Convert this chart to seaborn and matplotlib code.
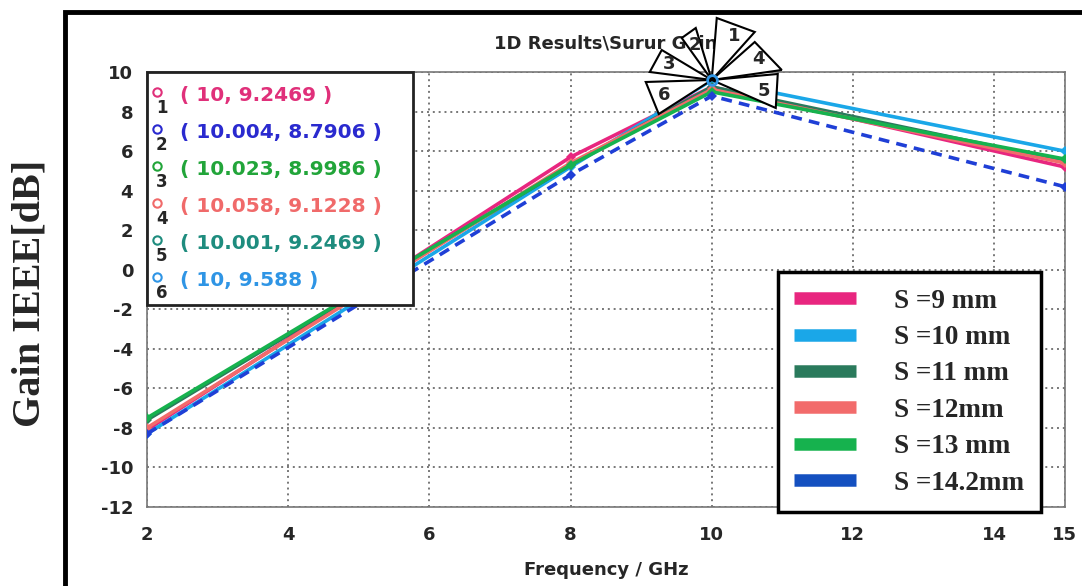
import numpy as np
import pandas as pd
import matplotlib
matplotlib.use("Agg")
import matplotlib.pyplot as plt
import matplotlib.transforms as mtransforms
from matplotlib.patches import Rectangle, Polygon
from matplotlib.lines import Line2D
import seaborn as sns

# Data
freq = [2, 8, 10, 15]
series = ["S =9 mm", "S =10 mm", "S =11 mm", "S =12mm", "S =13 mm", "S =14.2mm"]
gain_9 = [-8.1, 5.7, 9.25, 5.2]
gain_10 = [-8.3, 5.2, 9.59, 6.0]
gain_11 = [-7.6, 5.3, 9.25, 5.5]
gain_12 = [-8.0, 5.4, 9.12, 5.4]
gain_13 = [-7.5, 5.3, 9.0, 5.6]
gain_142 = [-8.3, 4.8, 8.79, 4.2]
colors = ["#E8267F", "#1AA7E8", "#2A7A5C", "#F26B6B", "#16B24E", "#1F3FD6"]
legend_colors = ["#E8267F", "#1AA7E8", "#2A7A5C", "#F26B6B", "#16B24E", "#1450C0"]

marker_labels = ["( 10, 9.2469 )", "( 10.004, 8.7906 )", "( 10.023, 8.9986 )",
                 "( 10.058, 9.1228 )", "( 10.001, 9.2469 )", "( 10, 9.588 )"]
marker_colors = ["#E0307A", "#2A2ACF", "#22A53A", "#F06A6A", "#1E8C7E", "#2F95E5"]

xticks = [2, 4, 6, 8, 10, 12, 14, 15]
yticks = list(range(-12, 11, 2))

df = pd.DataFrame({
    "freq": freq * 6,
    "gain": gain_9 + gain_10 + gain_11 + gain_12 + gain_13 + gain_142,
    "s": [s for s in series for _ in freq],
})

sns.set_style("white")
plt.rcParams["axes.unicode_minus"] = False
fig = plt.figure(figsize=(10.82, 5.86), dpi=100)
ax = fig.add_axes([0.1359, 0.135, 0.8481, 0.742])

dashes = {s: "" for s in series}
dashes["S =14.2mm"] = (3, 2)
sns.lineplot(data=df, x="freq", y="gain", hue="s", style="s", palette=dict(zip(series, colors)),
             dashes=dashes, markers={s: "D" for s in series}, markersize=5, markeredgewidth=0,
             linewidth=2.6, legend=False, ax=ax, zorder=3)

ax.set_xlim(2, 15)
ax.set_ylim(-12, 10)
ax.set_xticks(xticks)
ax.set_yticks(yticks)
ax.grid(True, color="#777777", linestyle=(0, (1, 2)), linewidth=1.4)
for sp in ax.spines.values():
    sp.set_color("#777777")
    sp.set_linewidth(1.2)
ax.tick_params(axis="y", labelsize=13, pad=10, length=0)
ax.tick_params(axis="x", labelsize=13, pad=14, length=0)
for lab in ax.get_xticklabels() + ax.get_yticklabels():
    lab.set_fontweight("bold")
ax.set_xlabel("Frequency / GHz", fontsize=13, fontweight="bold", labelpad=12)
ax.set_ylabel("")
ax.set_title("1D Results\\Surur Gain", fontsize=13, fontweight="bold", pad=17)

# marker readout box
ax.add_patch(Rectangle((0, 0.464), 0.29, 0.536, transform=ax.transAxes, facecolor="white",
                       edgecolor="#222222", linewidth=2, zorder=5, clip_on=False))
for i, (lab, c) in enumerate(zip(marker_labels, marker_colors)):
    y = 0.946 - i * 0.085
    ax.plot(0.011, y + 0.008, "o", mfc="none", mec=c, ms=6, mew=1.5, transform=ax.transAxes, zorder=6, clip_on=False)
    ax.text(0.016, y - 0.028, str(i + 1), transform=ax.transAxes, fontsize=12, fontweight="bold",
            ha="center", va="center", zorder=6)
    ax.text(0.036, y, lab, transform=ax.transAxes, fontsize=14.5, fontweight="bold", color=c,
            ha="left", va="center", zorder=6)

# marker flags at the peak
flags = {
    "1": ([(0, 0), (5, 62), (43, 48)], (22, 44)),
    "4": ([(0, 0), (43, 38), (70, 10)], (47, 21)),
    "5": ([(0, 0), (66, 6), (64, -28)], (52, -11)),
    "6": ([(0, 0), (-66, -2), (-53, -34)], (-48, -15)),
    "3": ([(0, 0), (-50, 30), (-62, 8)], (-43, 16)),
    "2": ([(0, 0), (-30, 42), (-16, 52)], (-17, 35)),
}
base = fig.dpi_scale_trans + mtransforms.ScaledTranslation(10, 9.6, ax.transData)
for num, (verts, pos) in flags.items():
    pts = [(vx / 100, vy / 100) for vx, vy in verts]
    ax.add_patch(Polygon(pts, closed=True, transform=base, facecolor="white", edgecolor="black",
                         linewidth=1.5, zorder=7, clip_on=False))
    ax.text(pos[0] / 100, pos[1] / 100, num, transform=base, fontsize=13, fontweight="bold",
            ha="center", va="center", zorder=8, clip_on=False)
ax.plot(10, 9.6, "o", mfc="none", mec="#2F95E5", ms=7, mew=2, zorder=9, clip_on=False)

# legend
handles = [Line2D([], [], color=c, linewidth=9, solid_capstyle="butt") for c in legend_colors]
leg = fig.legend(handles, series, loc="upper left", bbox_to_anchor=(0.719, 0.535),
                 prop={"family": "Liberation Serif", "weight": "bold", "size": 19.5},
                 frameon=True, fancybox=False, edgecolor="black", framealpha=1, handlelength=2.3,
                 labelspacing=0.42, borderpad=0.6, handletextpad=1.4, borderaxespad=0)
leg.get_frame().set_linewidth(2.5)

# y label and outer frame
fig.text(0.028, 0.5, "Gain IEEE[dB]", rotation=90, ha="center", va="center",
         fontsize=29, fontweight="bold", family="Liberation Serif")
fig.add_artist(Rectangle((0.06, -0.1), 1.0, 1.08, transform=fig.transFigure, fill=False,
                         edgecolor="black", linewidth=3.5))

fig.savefig("out.png", dpi=100)
